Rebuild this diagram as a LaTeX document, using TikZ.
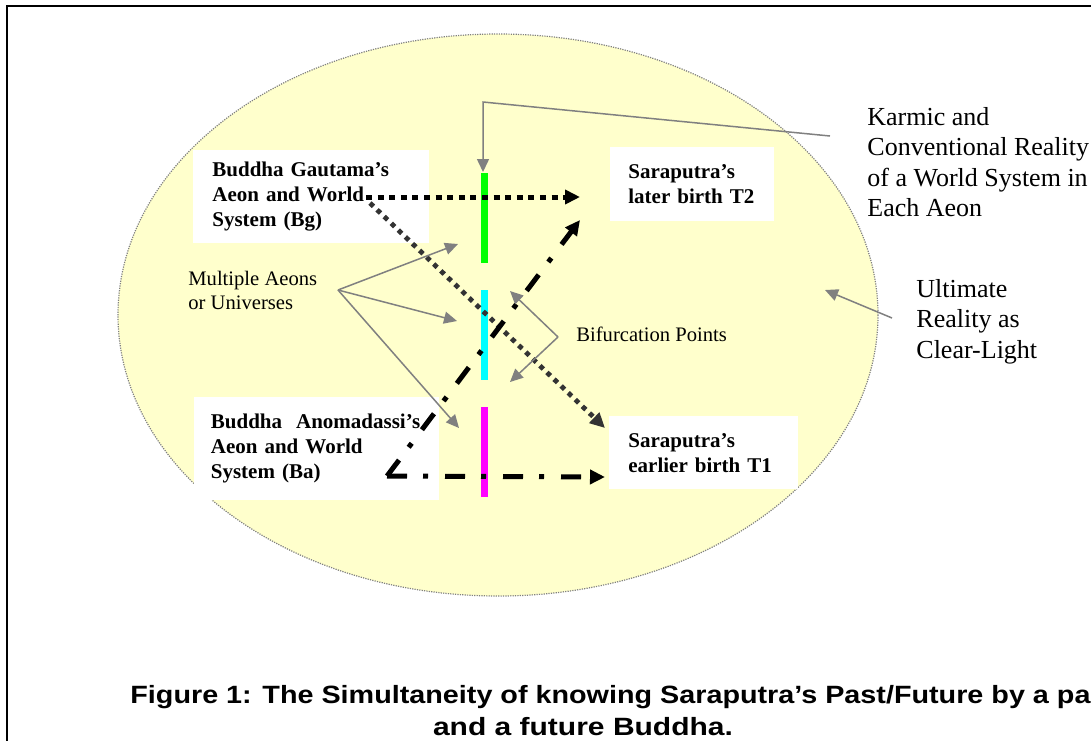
\documentclass[tikz,border=0pt]{standalone}
\usepackage{fontspec}
\setmainfont{Liberation Serif}
\newfontfamily\captionsans{Liberation Sans}
\usepackage{graphicx}
\usetikzlibrary{arrows.meta}

\definecolor{paleyellow}{RGB}{255,255,204}
\definecolor{aeongreen}{RGB}{0,255,0}
\definecolor{aeoncyan}{RGB}{0,255,255}
\definecolor{aeonmagenta}{RGB}{255,0,255}
\definecolor{pointergray}{RGB}{128,128,128}
\definecolor{darkdots}{RGB}{51,51,51}

\tikzset{
  whitebox/.style={fill=white, anchor=north west, inner xsep=9.5pt, inner ysep=0pt, align=left,
    font=\bfseries\fontsize{10.5}{12.5}\selectfont},
  plaintext/.style={anchor=north west, inner sep=0pt, align=left},
  bigtext/.style={plaintext, font=\fontsize{13}{15.25}\selectfont},
  smalltext/.style={plaintext, font=\fontsize{10.3}{12}\selectfont},
  captiontext/.style={inner sep=0pt, font=\captionsans\bfseries\fontsize{12.5}{15}\selectfont},
  aeonbar/.style={anchor=north, minimum width=3.5pt, minimum height=45pt, inner sep=0pt},
  pointer/.style={pointergray, line width=0.75pt, -{Triangle[length=6.5pt,width=6pt]}},
  laterarrow/.style={black, line width=2.5pt, dash pattern=on 3pt off 2.8pt, -{Triangle[length=7.5pt,width=7pt]}},
  earlierarrow/.style={darkdots, line width=2.4pt, dash pattern=on 2.4pt off 2.5pt, -{Triangle[length=7.5pt,width=7pt]}},
  rebirtharrow/.style={black, line width=2.5pt, dash pattern=on 10pt off 8pt on 2.5pt off 8.5pt, -{Triangle[length=7.5pt,width=7pt]}}
}

\begin{document}
\begin{tikzpicture}[x=0.5pt, y=-0.5pt]
\useasboundingbox (0,0) rectangle (1091,740);
\clip (0,0) rectangle (1091,740);
\draw[line width=1pt] (7,6) rectangle (1120,770); %frame
\filldraw[fill=paleyellow, draw=pointergray, line width=0.6pt, dash pattern=on 0.6pt off 0.6pt]
  (498,315) ellipse [x radius=380, y radius=281]; %clear-light

% aeons
\node[aeonbar, fill=aeongreen] (greenbar) at (484,173) {};
\node[aeonbar, fill=aeoncyan] (cyanbar) at (484,290) {};
\node[aeonbar, fill=aeonmagenta] (magentabar) at (484,407) {};

% world systems and births
\node[whitebox, text width=99pt, minimum height=46.5pt] (gautama) at (193,150) {Buddha Gautama’s\\Aeon and World\\System (Bg)};
\node[whitebox, inner xsep=8.25pt, text width=106pt, minimum height=51.5pt] (anomadassi) at (194,397) {Buddha\ \ Anomadassi’s\\Aeon and World\\System (Ba)};
\node[whitebox, inner xsep=9pt, text width=64pt, minimum height=37pt] (later) at (610,147) {Saraputra’s\\later birth T2};
\node[whitebox, text width=75.5pt, minimum height=36.5pt] (earlier) at (609,416) {Saraputra’s\\earlier birth T1};

% labels
\node[bigtext] (karmic) at (867,107) {Karmic and\\Conventional Reality\\of a World System in\\Each Aeon};
\node[bigtext] (ultimate) at (916,279) {Ultimate\\Reality as\\Clear-Light};
\node[smalltext] (aeons) at (188,271) {Multiple Aeons\\or Universes};
\node[smalltext] (bifurcation) at (576,327) {Bifurcation Points};

% free ends
\coordinate (gfrom) at (366,197);
\coordinate (gdiag) at (370,203);
\coordinate (laterend) at (580,197);
\coordinate (earlierend) at (605,428);
\coordinate (corner) at (387,476);
\coordinate (lateruplink) at (580,220);
\coordinate (earlierlink) at (605,477);

% rebirth paths
\draw[laterarrow] (gfrom) -- (laterend);
\draw[earlierarrow] (gdiag) -- (earlierend);
\draw[rebirtharrow] (corner) -- (lateruplink);
\draw[rebirtharrow] (corner) -- (earlierlink);

% pointers
\coordinate (karmicfrom) at (830,136);
\coordinate (karmicbend) at (483,102);
\coordinate (karmicto) at (483,172);
\draw[pointer] (karmicfrom) -- (karmicbend) -- (karmicto);
\coordinate (aeonsfrom) at (338,290);
\coordinate (aeonsto1) at (458,244);
\coordinate (aeonsto2) at (457,321);
\coordinate (aeonsto3) at (459,428);
\foreach \t in {aeonsto1,aeonsto2,aeonsto3}
  \draw[pointer] (aeonsfrom) -- (\t);
\coordinate (bifurcfrom) at (558,337);
\coordinate (bifurcto1) at (510,291);
\coordinate (bifurcto2) at (510,382);
\draw[pointer] (bifurcfrom) -- (bifurcto1);
\draw[pointer] (bifurcfrom) -- (bifurcto2);
\coordinate (ultimatefrom) at (892,318);
\coordinate (ultimateto) at (825,290);
\draw[pointer] (ultimatefrom) -- (ultimateto);

% caption
\node[captiontext, anchor=base west] (caption1) at (130,703)
  {\scalebox{1.15}[1]{Figure 1: The Simultaneity of knowing Saraputra’s Past/Future by a past}};
\node[captiontext, anchor=base] (caption2) at (583,735)
  {\scalebox{1.2}[1]{and a future Buddha.}};
\end{tikzpicture}
\end{document}
